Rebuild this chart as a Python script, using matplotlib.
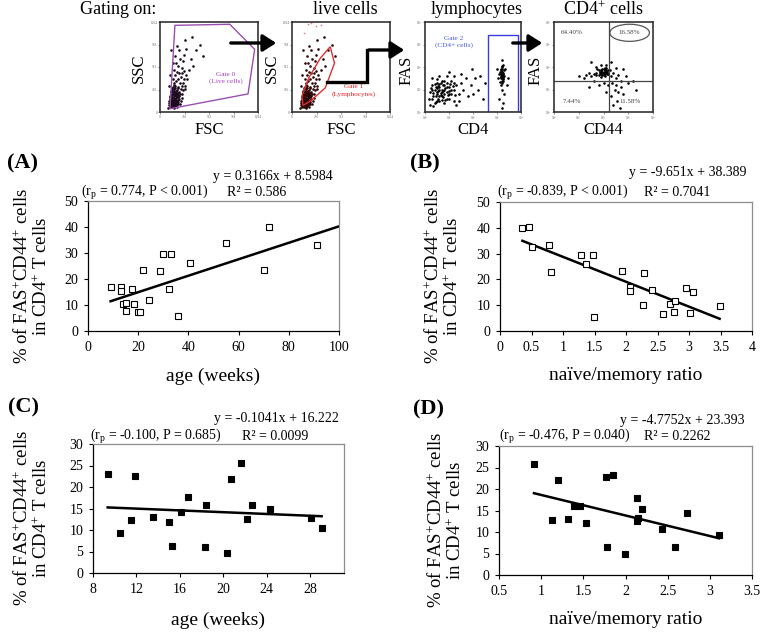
import numpy as np
import matplotlib
matplotlib.use("Agg")
import matplotlib.pyplot as plt
from matplotlib.patches import Polygon, Rectangle, Ellipse, FancyArrowPatch
from matplotlib.lines import Line2D
from matplotlib.ticker import FormatStrFormatter, NullLocator

# ---------------- data ----------------
# Panel A: age (weeks) vs % FAS+CD44+ (open squares)
age_A = [9.0, 13.0, 13.1, 13.9, 15.3, 15.3, 17.7, 18.3, 20.1, 20.6, 21.9, 24.3,
         28.7, 30.0, 33.1, 32.3, 36.0, 40.8, 55.0, 70.0, 72.1, 91.2]
pct_A = [16.8, 17.1, 15.4, 10.5, 10.8, 7.6, 16.1, 10.2, 7.3, 7.2, 23.4, 12.1,
         22.9, 29.8, 29.8, 16.1, 5.7, 26.0, 33.9, 23.4, 40.0, 33.0]
fit_A = [0.3166, 8.5984]
fitx_A = [9.0, 100.0]

# Panel B: naive/memory ratio vs % FAS+CD44+ (open squares)
ratio_B = [0.355, 0.466, 0.503, 0.784, 0.81, 1.293, 1.36, 1.483, 1.49, 1.944, 2.07, 2.07,
           2.29, 2.27, 2.41, 2.585, 2.70, 2.755, 2.776, 2.946, 3.057, 3.02, 3.486]
pct_B = [39.8, 40.2, 32.6, 33.5, 22.9, 29.4, 25.8, 29.4, 5.3, 23.1, 17.1, 15.5,
         22.5, 10.1, 15.7, 6.7, 10.4, 7.3, 11.8, 16.5, 15.0, 7.0, 9.7]
fit_B = [-9.651, 38.389]
fitx_B = [0.355, 3.486]

# Panel C: age (weeks) vs % FAS+CD44+ (filled squares)
age_C = [9.35, 10.5, 11.5, 11.83, 13.52, 14.96, 15.27, 16.13, 16.71, 18.28, 18.43,
         20.33, 20.73, 21.59, 22.14, 22.6, 24.3, 28.03, 29.04]
pct_C = [23.1, 9.4, 12.3, 22.5, 13.0, 11.9, 6.2, 14.2, 17.6, 6.1, 15.9,
         4.6, 21.9, 25.5, 12.6, 15.7, 15.0, 12.9, 10.5]
fit_C = [-0.1041, 16.222]
fitx_C = [9.35, 29.04]

# Panel D: naive/memory ratio vs % FAS+CD44+ (filled squares)
ratio_D = [0.915, 1.13, 1.20, 1.32, 1.39, 1.466, 1.537, 1.77, 1.78, 1.853, 1.99,
           2.136, 2.148, 2.14, 2.196, 2.427, 2.587, 2.727, 3.11]
pct_D = [25.75, 12.8, 22.0, 13.1, 16.1, 16.1, 12.1, 22.7, 6.4, 23.3, 4.8,
         17.8, 13.3, 12.5, 15.3, 10.8, 6.4, 14.5, 9.4]
fit_D = [-4.7752, 23.393]
fitx_D = [0.915, 3.11]

# Flow cytometry events (approximate reading of the dot plots)
fsc_ssc = [(100,60),(120,80),(140,70),(160,90),(110,110),(130,130),(150,120),(170,140),(190,110),
           (105,150),(125,170),(145,160),(165,180),(185,170),(115,200),(135,210),(155,220),(175,200),
           (195,230),(125,250),(145,260),(165,240),(185,270),(140,290),(160,300),(120,95),(180,60),
           (200,150),(90,130),(150,45),(135,100),(175,115),(155,190),(115,230),(205,200),
           (150,330),(170,350),(190,380),(140,370),(210,330),(160,420),(200,440),(180,460),(220,400),
           (150,480),(230,500),(190,520),(170,560),(240,580),(210,600),(160,640),(250,650),(200,700),
           (180,750),(270,720),(300,480),(350,520),(280,380),(320,600),(420,760),(380,700),(260,820),
           (330,850),(450,640),(120,700),(140,560),(100,420),(90,300),(230,300),(260,260),
           (95,75),(110,90),(130,105),(145,55),(160,65),(175,130),(190,90),(105,185),(125,140),
           (140,205),(155,150),(170,110),(185,215),(100,170),(118,240),(132,120),(148,180),(162,85),
           (85,50),(95,100),(108,65),(118,125),(128,55),(138,150),(142,90),(152,100),(158,135),
           (168,160),(178,95),(188,140),(198,180),(112,160),(122,190),(132,230),(142,240),(152,270),
           (162,210),(172,230),(182,250),(192,290),(138,75),(124,110),(146,125),(166,120),(176,170),
           (186,195),(130,275),(150,310),
           (215,120),(225,160),(235,210),(245,250),(220,260),(240,330),(255,380),(265,300),
           (210,90),(230,440),(250,470),(275,420)]
ssc_top_events = [(170,1000),(200,1010),(250,980),(130,900),(300,990)]

cd4_fas_log = [(0.3,0.6),(0.5,0.8),(0.7,0.7),(0.9,0.9),(1.1,0.8),(0.4,1.0),(0.6,1.1),(0.8,1.2),
               (1.0,1.1),(1.2,1.0),(0.5,1.3),(0.7,1.4),(0.9,1.3),(1.1,1.4),(1.3,1.2),(0.6,0.5),
               (0.8,0.4),(1.0,0.6),(1.2,0.5),(1.4,0.8),(0.3,1.2),(0.2,0.9),(0.6,1.6),(0.9,1.6),
               (1.2,1.6),(1.5,1.3),(1.6,1.0),(1.4,0.5),(0.4,0.4),(0.75,0.95),(0.85,1.05),(0.65,0.85),
               (0.95,0.75),(1.05,1.25),(0.55,0.95),(0.45,0.7),(1.25,0.75),(1.7,1.5),(1.8,0.7),
               (0.3,1.5),(1.0,1.8),(1.5,1.7),(0.2,0.3),(1.3,0.3),(0.15,0.6),(0.35,0.85),(0.5,1.05),
               (0.7,1.0),(0.6,0.7),(0.8,0.8),(0.4,1.25),(0.55,0.6),(0.75,1.2),(1.0,0.95),(0.25,1.05),
               (0.45,0.45),(0.65,1.3),(0.85,0.55),(1.15,1.15),(0.35,0.25),
               (0.5,0.9),(0.6,1.0),(0.7,0.9),(0.8,1.0),(0.55,1.15),(0.65,0.75),(0.75,0.65),(0.9,1.1),
               (1.0,0.8),(0.45,1.1),(0.35,0.7),(0.5,0.5),(0.7,0.55),(0.9,0.6),(1.1,1.0),(1.2,1.3),
               (0.8,1.4),(0.5,1.45),(0.3,1.0),(0.6,1.25),
               (1.9,1.2),(2.0,0.8),(2.1,1.5),(2.2,1.0),(1.95,1.9),(2.3,1.6),(2.5,1.3),(2.4,0.6),
               (3.15,1.5),(3.2,1.6),(3.25,1.7),(3.2,1.8),(3.15,1.9),(3.25,1.4),(3.2,1.3),(3.3,1.6),
               (3.1,1.7),(3.2,2.0),(3.25,2.1),(3.15,1.2),(3.2,1.0),(3.3,0.8),(3.1,0.6),(3.25,0.4),
               (3.35,1.9),(3.05,1.5),(3.2,2.3),(3.4,1.2),(3.18,1.55),(3.22,1.65),(3.17,1.75),
               (3.23,1.45),(3.28,1.85),(3.12,1.35),(3.2,1.7),(3.15,1.62),(3.25,1.52),(3.2,0.2),
               (3.0,1.9),(3.45,1.5),
               (3.2,1.5),(3.2,1.9),(3.22,1.8),(3.18,1.85),(3.24,1.6),(3.16,1.68),(3.2,1.4),
               (3.26,1.75),(3.14,1.8),(3.21,2.05)]

cd44_fas_log = [(2.0,1.8),(2.1,1.75),(1.9,1.7),(2.05,1.85),(1.95,1.9),(2.15,1.8),(1.85,1.8),(2.0,1.65),
                (2.1,1.95),(1.8,1.65),(2.2,1.7),(1.7,1.75),(2.25,1.85),(1.9,1.55),(2.05,1.6),(1.75,1.9),
                (1.6,1.7),(1.5,1.6),(1.4,1.75),(1.3,1.65),(1.2,1.5),(1.0,1.6),(2.3,1.6),(2.4,1.75),
                (2.5,1.5),(2.6,1.65),(2.7,1.4),(2.35,1.3),(2.5,1.2),(2.45,1.0),(2.6,0.9),(2.3,0.7),
                (2.55,0.5),(2.7,1.1),(2.8,0.8),(3.0,1.3),(2.9,1.6),(2.2,1.2),(2.0,1.3),(1.8,1.2),
                (1.6,1.4),(2.1,2.1),(1.9,2.1),(2.3,2.2),(1.7,2.0),(2.5,1.95),(2.8,1.9),(3.2,1.4),
                (3.3,1.0),(1.4,1.1),(2.1,0.9),(2.4,0.3),(2.65,0.2),(1.5,2.2),(2.0,1.75),(1.95,1.8),
                (2.08,1.72),(2.12,1.88),(1.88,1.78),(2.02,1.92),
                (1.9,1.85),(2.0,1.7),(2.1,1.8),(1.85,1.72),(2.15,1.68),(2.05,1.95),(1.95,1.65),
                (1.8,1.85),(2.2,1.85),(1.7,1.65)]

gate0_fsc = [156, 729, 989, 920, 104]
gate0_ssc = [986, 998, 713, 206, 37]
gate1_fsc = [399, 444, 347, 191, 115, 104, 174, 295]
gate1_ssc = [743, 555, 274, 124, 75, 180, 386, 611]
gate2_cd4 = [10**2.64, 10**3.86]
gate2_fas = [1.0, 10**3.44]
quad_cd44 = 10**2.22
quad_fas = 10**1.36
quad_labels = ["64.40%", "16.58%", "7.44%", "11.58%"]

# ---------------- style ----------------
plt.rcParams['font.family'] = ['Liberation Serif', 'DejaVu Serif']
plt.rcParams['mathtext.fontset'] = 'custom'
plt.rcParams['mathtext.rm'] = 'Liberation Serif'
plt.rcParams['mathtext.it'] = 'Liberation Serif:italic'
plt.rcParams['mathtext.bf'] = 'Liberation Serif:bold'

W, H = 763, 632
fig = plt.figure(figsize=(W / 100, H / 100), dpi=100)


def rect(l, t, r, b):
    return [l / W, 1 - b / H, (r - l) / W, (b - t) / H]


def fxy(x, y):
    return (x / W, 1 - y / H)


YLAB = "% of FAS$^{+}$CD44$^{+}$ cells\nin CD4$^{+}$ T cells"
EQFS = 10


def scatter_panel(r, x, y, filled, fit, fitx, xlim, ylim, xt, yt,
                  eq, rp, r2, eqpos, rppos, r2pos):
    ax = fig.add_axes(rect(*r))
    ax.plot(x, y, ls='none', marker='s', ms=4.6,
            mfc='black' if filled else 'white', mec='black', mew=0.8, zorder=3)
    fx_ = np.array(fitx)
    ax.plot(fx_, fit[0] * fx_ + fit[1], color='black', lw=1.8, zorder=2)
    ax.set_xlim(*xlim)
    ax.set_ylim(*ylim)
    ax.set_xticks(xt)
    ax.set_yticks(yt)
    ax.xaxis.set_major_formatter(FormatStrFormatter('%g'))
    ax.yaxis.set_major_formatter(FormatStrFormatter('%g'))
    for s in ['left', 'bottom']:
        ax.spines[s].set_color('black')
        ax.spines[s].set_linewidth(0.9)
    for s in ['top', 'right']:
        ax.spines[s].set_color('#8c8c8c')
        ax.spines[s].set_linewidth(0.9)
    ax.tick_params(direction='out', length=3, width=0.8, labelsize=10, pad=4)
    ax.text(eqpos[0], eqpos[1], eq, transform=ax.transAxes, ha='right', va='center', fontsize=EQFS)
    ax.text(rppos[0], rppos[1], rp, transform=ax.transAxes, ha='left', va='center', fontsize=EQFS)
    ax.text(r2pos[0], r2pos[1], r2, transform=ax.transAxes, ha='center', va='center', fontsize=EQFS)
    return ax


scatter_panel((88, 201, 339, 331), age_A, pct_A, False, fit_A, fitx_A, (0, 100), (0, 50),
              [0, 20, 40, 60, 80, 100], [0, 10, 20, 30, 40, 50],
              "y = 0.3166x + 8.5984", "(r$_{\\rm p}$ = 0.774, P < 0.001)", "R² = 0.586",
              (0.976, 1.185), (-0.028, 1.062), (0.673, 1.062))
scatter_panel((500, 202, 752, 331), ratio_B, pct_B, False, fit_B, fitx_B, (0, 4), (0, 50),
              [0, 0.5, 1, 1.5, 2, 2.5, 3, 3.5, 4], [0, 10, 20, 30, 40, 50],
              "y = -9.651x + 38.389", "(r$_{\\rm p}$ = -0.839, P < 0.001)", "R² = 0.7041",
              (0.980, 1.225), (-0.012, 1.07), (0.702, 1.07))
scatter_panel((93, 444, 344, 573), age_C, pct_C, True, fit_C, fitx_C, (8, 31.1), (0, 30),
              [8, 12, 16, 20, 24, 28], [0, 5, 10, 15, 20, 25, 30],
              "y = -0.1041x + 16.222", "(r$_{\\rm p}$ = -0.100, P = 0.685)", "R² = 0.0099",
              (0.98, 1.194), (-0.012, 1.062), (0.725, 1.062))
scatter_panel((499, 446, 752, 575), ratio_D, pct_D, True, fit_D, fitx_D, (0.5, 3.5), (0, 30),
              [0.5, 1, 1.5, 2, 2.5, 3, 3.5], [0, 5, 10, 15, 20, 25, 30],
              "y = -4.7752x + 23.393", "(r$_{\\rm p}$ = -0.476, P = 0.040)", "R² = 0.2262",
              (0.972, 1.2), (0.0, 1.07), (0.705, 1.07))

# y labels, x labels, panel letters
for (cx, cy) in [(32, 276), (443, 276), (32, 518), (446, 520)]:
    fig.text(*fxy(cx, cy), YLAB, rotation=90, ha='center', va='center',
             multialignment='center', fontsize=13.5, linespacing=1.05)
fig.text(*fxy(213, 376), "age (weeks)", ha='center', va='center', fontsize=14)
fig.text(*fxy(626, 376), "naïve/memory ratio", ha='center', va='center', fontsize=14)
fig.text(*fxy(218, 620), "age (weeks)", ha='center', va='center', fontsize=14)
fig.text(*fxy(626, 620), "naïve/memory ratio", ha='center', va='center', fontsize=14)
for lab, (cx, cy) in [("(A)", (23, 163)), ("(B)", (425, 163)), ("(C)", (24, 407)), ("(D)", (428, 409))]:
    fig.text(*fxy(cx, cy), lab, ha='center', va='center', fontsize=16, fontweight='bold')


# ---------------- flow cytometry row ----------------
def flow_axes(r, log):
    ax = fig.add_axes(rect(*r))
    if log:
        ax.set_xscale('log')
        ax.set_yscale('log')
        ax.set_xlim(1, 1e4)
        ax.set_ylim(1, 1e4)
        tk = [1, 10, 100, 1000, 10000]
        tl = ["10$^0$", "10$^1$", "10$^2$", "10$^3$", "10$^4$"]
        ax.xaxis.set_minor_locator(NullLocator())
        ax.yaxis.set_minor_locator(NullLocator())
    else:
        ax.set_xlim(0, 1024)
        ax.set_ylim(0, 1024)
        tk = [0, 256, 512, 768, 1024]
        tl = ["0", "256", "512", "768", "1024"]
    ax.set_xticks(tk)
    ax.set_yticks(tk)
    ax.set_xticklabels(tl)
    ax.set_yticklabels(tl)
    ax.tick_params(direction='out', length=1.2, width=0.5, labelsize=2.5, pad=0.6,
                   colors='#666666')
    for s in ax.spines.values():
        s.set_linewidth(1.2)
        s.set_color('#333333')
    return ax


ev = np.array(fsc_ssc)
top_ev = np.array(ssc_top_events)
DOT = 3.5

ax1 = flow_axes((160, 22, 258, 112), False)
ax1.scatter(ev[:, 0], ev[:, 1], s=DOT, c='#1a0a1a', linewidths=0)
ax1.add_patch(Polygon(np.column_stack([gate0_fsc, gate0_ssc]), closed=True, fill=False,
                      ec='#9a4fb0', lw=1.0))
ax1.text(0.67, 0.38, "Gate 0\n(Live cells)", transform=ax1.transAxes, ha='center', va='center',
         fontsize=5.2, color='#a040c0', linespacing=1.4)

ax2 = flow_axes((292, 22, 390, 112), False)
ax2.scatter(ev[:, 0], ev[:, 1], s=DOT, c='#2a0505', linewidths=0)
ax2.scatter(top_ev[:, 0], top_ev[:, 1], s=1.5, c='#e08080', linewidths=0)
ax2.add_patch(Polygon(np.column_stack([gate1_fsc, gate1_ssc]), closed=True, fill=False,
                      ec='#e03030', lw=1.0))
ax2.text(0.63, 0.24, "Gate 1\n(Lymphocytes)", transform=ax2.transAxes, ha='center', va='center',
         fontsize=5.2, color='#e02020', linespacing=1.4)

cf = np.array(cd4_fas_log)
ax3 = flow_axes((425, 22, 521, 112), True)
ax3.scatter(10 ** cf[:, 0], 10 ** cf[:, 1], s=DOT, c='black', linewidths=0)
ax3.add_patch(Rectangle((gate2_cd4[0], gate2_fas[0]), gate2_cd4[1] - gate2_cd4[0],
                        gate2_fas[1] - gate2_fas[0], fill=False, ec='#3a3ae0', lw=1.0))
ax3.text(0.30, 0.78, "Gate 2\n(CD4+ cells)", transform=ax3.transAxes, ha='center', va='center',
         fontsize=5.2, color='#4a5ae0', linespacing=1.4)

cq = np.array(cd44_fas_log)
ax4 = flow_axes((554, 22, 653, 112), True)
ax4.scatter(10 ** cq[:, 0], 10 ** cq[:, 1], s=DOT, c='black', linewidths=0)
ax4.axvline(quad_cd44, color='#444444', lw=0.9)
ax4.axhline(quad_fas, color='#444444', lw=0.9)
for lab, (px, py) in zip(quad_labels, [(0.175, 0.88), (0.764, 0.88), (0.175, 0.12), (0.764, 0.12)]):
    ax4.text(px, py, lab, transform=ax4.transAxes, ha='center', va='center', fontsize=5, color='#444444')
ax4.add_patch(Ellipse((0.764, 0.88), 0.40, 0.19, transform=ax4.transAxes, fill=False,
                      ec='#555555', lw=0.9))

# axis labels and titles of the flow row
for txt, (cx, cy) in [("SSC", (139, 68)), ("SSC", (272, 68)), ("FAS", (407, 70)), ("FAS", (536, 70))]:
    fig.text(*fxy(cx, cy), txt, rotation=90, ha='center', va='center', fontsize=12)
for txt, (cx, cy) in [("FSC", (209, 130)), ("FSC", (341, 130)), ("CD4", (473, 130)), ("CD44", (603, 130))]:
    fig.text(*fxy(cx, cy), txt, ha='center', va='center', fontsize=12)
for txt, (cx, cy) in [("Gating on:", (118, 10)), ("live cells", (345, 10)),
                      ("lymphocytes", (477, 10)), ("CD4$^{+}$ cells", (603, 10))]:
    fig.text(*fxy(cx, cy), txt, ha='center', va='center', fontsize=13)


# arrows between the flow plots
def arrow(p0, p1):
    fig.add_artist(FancyArrowPatch(fxy(*p0), fxy(*p1), transform=fig.transFigure,
                                   arrowstyle='-|>,head_length=5,head_width=3.2',
                                   mutation_scale=1.6, lw=2.4, color='black'))


arrow((228, 43), (279, 43))
fig.add_artist(Line2D([327 / W, 367 / W, 367 / W], [1 - 82 / H, 1 - 82 / H, 1 - 50 / H],
                      transform=fig.transFigure, color='black', lw=2.4,
                      solid_joinstyle='miter'))
arrow((366, 50), (407, 50))
arrow((510, 43), (545, 43))

fig.savefig("out.png", dpi=100)
